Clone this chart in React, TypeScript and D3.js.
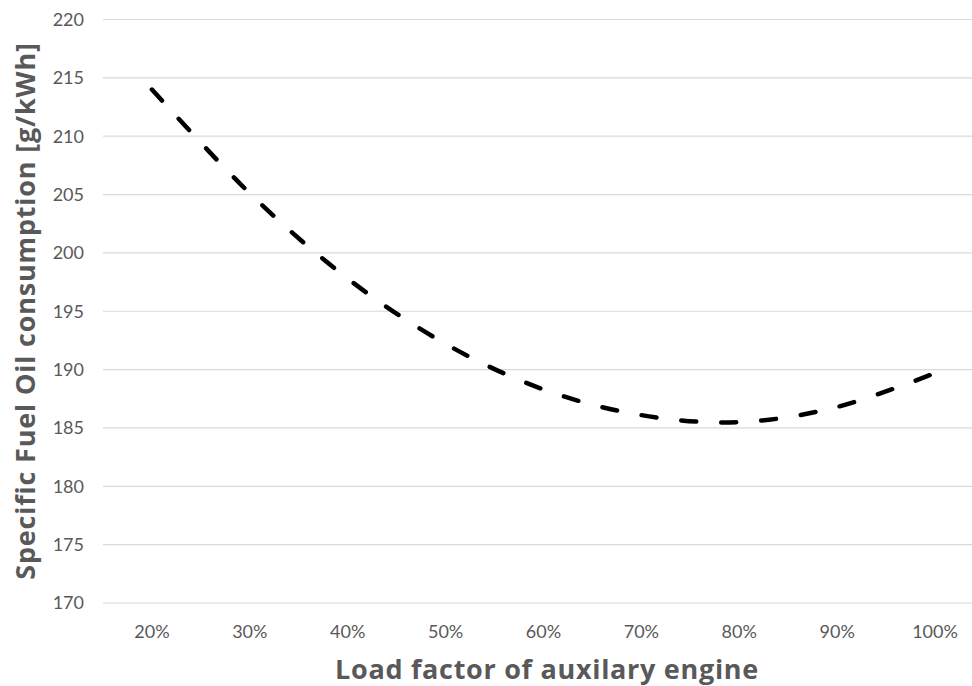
import * as d3 from "d3";
import { useEffect, useRef } from "react";

const loadFactors = ["20%", "30%", "40%", "50%", "60%", "70%", "80%", "90%", "100%"];
const sfoc = [214.0, 205.1, 197.8, 192.2, 188.3, 186.1, 185.5, 186.8, 189.7];
const yTicks = [170, 175, 180, 185, 190, 195, 200, 205, 210, 215, 220];

const width = 972;
const height = 686;
const textColor = "#595959";
const font = "Lato, 'Noto Sans', sans-serif";
const titleFont = "'Open Sans', 'Noto Sans', sans-serif";

function App() {
  const ref = useRef(null);

  useEffect(() => {
    const svg = d3.select(ref.current);
    svg.selectAll("*").remove();

    // plot area runs past the right edge, like the cropped original
    const x = d3.scaleBand<string>().domain(loadFactors).range([103, 984]);
    const y = d3.scaleLinear().domain([170, 220]).range([603, 19.5]);

    const g = svg.append("g");

    // gridlines
    g.selectAll("line.grid")
      .data(yTicks)
      .join("line")
      .attr("class", "grid")
      .attr("x1", 103)
      .attr("x2", 984)
      .attr("y1", (d) => y(d))
      .attr("y2", (d) => y(d))
      .attr("stroke", "#d9d9d9")
      .attr("stroke-width", 1.2);

    // y tick labels
    g.selectAll("text.ytick")
      .data(yTicks)
      .join("text")
      .attr("class", "ytick")
      .attr("x", 84)
      .attr("y", (d) => y(d))
      .attr("dy", "0.35em")
      .attr("text-anchor", "end")
      .attr("fill", textColor)
      .style("font", `18px ${font}`)
      .text((d) => d);

    // x tick labels
    g.selectAll("text.xtick")
      .data(loadFactors)
      .join("text")
      .attr("class", "xtick")
      .attr("x", (d) => x(d)! + x.bandwidth() / 2)
      .attr("y", 638)
      .attr("text-anchor", "middle")
      .attr("fill", textColor)
      .style("font", `18px ${font}`)
      .text((d) => d);

    const line = d3
      .line<number>()
      .x((_, i) => x(loadFactors[i])! + x.bandwidth() / 2)
      .y((d) => y(d))
      .curve(d3.curveCardinal.tension(0));

    g.append("path")
      .datum(sfoc)
      .attr("d", line)
      .attr("fill", "none")
      .attr("stroke", "#000")
      .attr("stroke-width", 4.5)
      .attr("stroke-linecap", "round")
      .attr("stroke-dasharray", "15 25");

    // axis titles
    g.append("text")
      .attr("x", 547)
      .attr("y", 679)
      .attr("text-anchor", "middle")
      .attr("fill", textColor)
      .style("font", `bold 27px ${titleFont}`)
      .style("letter-spacing", "0.7px")
      .text("Load factor of auxilary engine");

    g.append("text")
      .attr("transform", "translate(35,311) rotate(-90)")
      .attr("text-anchor", "middle")
      .attr("fill", textColor)
      .style("font", `bold 27px ${titleFont}`)
      .style("letter-spacing", "0.8px")
      .text("Specific Fuel Oil consumption [g/kWh]");
  }, []);

  return (
    <div style={{ position: "absolute", left: 0, top: 0 }}>
      <svg ref={ref} width={width} height={height} style={{ display: "block", background: "#fff" }} />
    </div>
  );
}

export default App;
